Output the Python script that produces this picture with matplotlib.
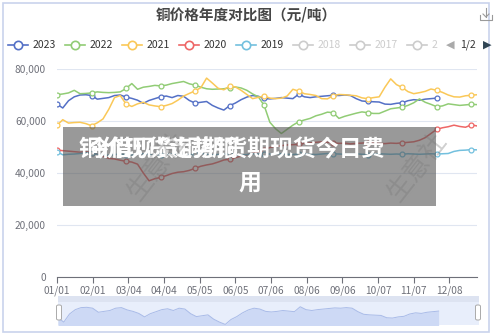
import matplotlib
matplotlib.use('Agg')
import matplotlib.pyplot as plt
from matplotlib.lines import Line2D
from matplotlib.patches import Rectangle, FancyBboxPatch

plt.rcParams['font.family'] = ['Noto Sans CJK SC', 'DejaVu Sans']

# 数据：每5天取一个点（单位：千元/吨）
days = list(range(0, 366, 5))
days_2023 = list(range(0, 331, 5))

price_2023 = [66.5, 65.0, 67.8, 69.3, 70.0, 70.1, 69.8, 68.4, 68.7, 69.0,
              69.8, 70.0, 69.2, 68.7, 68.0, 66.8, 67.9, 68.6, 69.3, 69.6,
              69.0, 69.8, 69.5, 67.9, 66.9, 67.2, 67.5, 66.0, 65.0, 64.2,
              65.9, 66.9, 68.2, 69.2, 69.8, 69.5, 68.7, 68.5, 68.7, 69.0,
              68.8, 68.6, 70.3, 69.3, 69.0, 69.3, 69.5, 69.7, 69.9, 69.8,
              70.0, 69.8, 68.6, 67.7, 67.5, 67.4, 67.3, 66.5, 66.4, 66.8,
              67.0, 67.8, 68.2, 68.0, 68.4, 68.6, 68.8]
price_2022 = [70.1, 70.4, 70.8, 71.8, 70.5, 70.6, 70.8, 71.2, 71.0, 70.9,
              71.0, 71.2, 72.5, 74.4, 72.2, 73.0, 73.3, 73.7, 73.5, 73.8,
              74.4, 74.8, 75.2, 74.3, 73.8, 73.0, 72.4, 72.2, 72.3, 72.4,
              72.8, 73.1, 72.7, 71.8, 70.4, 69.3, 66.0, 59.5, 57.0, 55.2,
              56.8, 58.4, 59.7, 60.4, 61.0, 62.0, 62.6, 63.4, 63.2, 61.0,
              61.8, 62.4, 63.0, 63.5, 63.2, 62.9, 62.9, 63.8, 64.7, 65.0,
              65.3, 66.0, 67.0, 68.5, 67.2, 66.4, 65.5, 65.8, 66.6, 66.3,
              66.0, 66.2, 66.4, 66.3]
price_2021 = [58.3, 60.5, 59.2, 59.4, 59.5, 59.0, 58.2, 59.3, 60.8, 64.5,
              69.0, 69.8, 66.5, 65.6, 66.6, 67.2, 66.2, 65.8, 65.5, 66.0,
              66.7, 68.0, 69.6, 70.6, 71.6, 72.8, 76.5, 74.6, 72.6, 72.0,
              73.4, 73.1, 71.8, 70.2, 68.6, 69.1, 69.6, 68.8, 68.6, 68.8,
              69.6, 72.2, 71.5, 70.5, 70.2, 69.8, 68.6, 68.5, 69.7, 70.2,
              70.1, 69.9, 69.7, 68.9, 68.6, 69.0, 69.3, 73.0, 76.2, 74.0,
              72.9, 71.3, 70.5, 70.9, 71.4, 72.3, 71.8, 71.0, 70.0, 69.3,
              69.2, 69.7, 69.9, 70.1]
price_2020 = [48.8, 48.6, 48.4, 48.2, 48.0, 48.2, 47.8, 47.2, 46.4, 45.6,
              45.4, 44.9, 44.5, 44.2, 43.4, 40.0, 37.0, 37.8, 38.3, 39.0,
              39.8, 40.3, 40.5, 41.0, 41.8, 42.6, 43.1, 43.5, 44.2, 45.0,
              45.3, 45.9, 46.5, 47.0, 47.6, 48.2, 49.0, 49.8, 50.2, 50.5,
              50.8, 50.9, 51.0, 51.4, 51.6, 51.8, 52.0, 51.8, 51.6, 51.4,
              51.5, 51.2, 51.4, 51.5, 51.7, 51.6, 51.4, 51.3, 51.5, 51.4,
              51.6, 51.8, 52.0, 52.6, 53.6, 55.2, 56.8, 57.4, 57.8, 58.4,
              57.9, 57.6, 58.5, 58.1]
price_2019 = [48.2, 47.0, 47.2, 47.3, 47.5, 47.8, 47.6, 47.2, 47.0, 46.8,
              47.1, 47.3, 47.0, 46.9, 47.2, 47.4, 47.1, 46.8, 46.9, 47.2,
              47.4, 47.3, 47.0, 47.1, 47.3, 47.5, 47.2, 47.0, 47.1, 47.3,
              47.2, 47.0, 46.9, 47.1, 47.4, 47.3, 47.2, 47.3, 47.5, 47.4,
              47.2, 47.1, 47.3, 47.4, 47.2, 47.1, 47.3, 47.5, 47.4, 47.3,
              47.2, 47.3, 47.4, 47.2, 47.1, 47.3, 47.4, 47.3, 47.2, 47.3,
              47.2, 47.4, 47.3, 47.2, 47.3, 47.4, 47.3, 47.4, 47.5, 48.3,
              48.7, 48.8, 49.0, 48.9]

tick_days = [0, 31, 62, 93, 124, 155, 186, 217, 248, 279, 310, 341]
tick_labels = ['01/01', '02/01', '03/04', '04/04', '05/05', '06/05',
               '07/06', '08/06', '09/06', '10/07', '11/07', '12/08']

legend_years = ['2023', '2022', '2021', '2020', '2019', '2018', '2017', '2']
colors = ['#5470c6', '#91cc75', '#fac858', '#ee6666', '#73c0de']

W, H = 500, 335


def fx(x):
    return x / W


def fy(y):
    return 1 - y / H


fig = plt.figure(figsize=(5, 3.35), dpi=100)

# 外框
fig.add_artist(Rectangle((fx(3), fy(332)), fx(486), 329 / H, transform=fig.transFigure,
                         facecolor='none', edgecolor='#c9d3ec', lw=1.2))

# 标题
fig.text(fx(246), fy(15), '铜价格年度对比图（元/吨）', ha='center', va='center',
         fontsize=10.5, fontweight='bold', color='#464646')

# 下载图标
ic = '#9a9a9a'
fig.add_artist(Line2D([fx(480), fx(480), fx(492), fx(492)], [fy(15), fy(20), fy(20), fy(15)],
                      transform=fig.transFigure, color=ic, lw=0.8))
fig.add_artist(Line2D([fx(486), fx(486)], [fy(8), fy(17)], transform=fig.transFigure, color=ic, lw=0.8))
fig.add_artist(Line2D([fx(483), fx(486), fx(489)], [fy(14), fy(17), fy(14)],
                      transform=fig.transFigure, color=ic, lw=0.8))

# 图例
for i, yr in enumerate(legend_years):
    sx = 8 + i * 57
    c = colors[i] if i < len(colors) else '#cccccc'
    tc = '#333333' if i < len(colors) else '#cccccc'
    fig.add_artist(Line2D([fx(sx), fx(sx + 20)], [fy(45), fy(45)], transform=fig.transFigure,
                          color=c, lw=1.2))
    fig.add_artist(Line2D([fx(sx + 10)], [fy(45)], transform=fig.transFigure, marker='o',
                          markersize=6, markerfacecolor='white', markeredgecolor=c, markeredgewidth=1.2))
    fig.text(fx(sx + 25), fy(45), yr, ha='left', va='center', fontsize=7.5, color=tc)
fig.text(fx(450), fy(45), '◀', ha='center', va='center', fontsize=8, color='#aaaaaa', family='DejaVu Sans')
fig.text(fx(468), fy(45), '1/2', ha='center', va='center', fontsize=7.5, color='#333333')
fig.text(fx(487), fy(45), '▶', ha='center', va='center', fontsize=8, color='#2f4554', family='DejaVu Sans')

# 主图
ax = fig.add_axes([fx(57), fy(277), 420 / W, 208 / H])
series = [(days_2023, price_2023), (days, price_2022), (days, price_2021),
          (days, price_2020), (days, price_2019)]
for (d, p), c in zip(series, colors):
    ax.plot(d, [v * 1000 for v in p], color=c, lw=1.1, marker='o', markersize=3.5,
            markerfacecolor='white', markeredgecolor=c, markeredgewidth=0.9, markevery=6)

ax.set_xlim(0, 365)
ax.set_ylim(0, 80000)
ax.set_yticks([0, 20000, 40000, 60000, 80000])
ax.set_yticklabels(['0', '20,000', '40,000', '60,000', '80,000'])
ax.set_xticks(tick_days)
ax.set_xticklabels(tick_labels)
ax.tick_params(axis='y', length=0, pad=8, labelsize=7.3, colors='#6e7079')
ax.tick_params(axis='x', length=4, width=0.8, pad=2, labelsize=7.3, colors='#6e7079')
ax.grid(axis='y', color='#e0e6f1', lw=0.8)
ax.set_axisbelow(True)
for s in ['left', 'right', 'top']:
    ax.spines[s].set_visible(False)
ax.spines['bottom'].set_color('#6e7079')
ax.spines['bottom'].set_linewidth(0.8)

# 数据缩放条
sl = fig.add_axes([fx(58), fy(325), 421 / W, 29 / H])
sl.set_facecolor('#e8eefb')
sl.fill_between(days_2023, price_2023, 60, color='#cdd9f5', lw=0)
sl.plot(days_2023, price_2023, color='#a9bbe8', lw=0.7)
sl.set_xlim(0, 365)
sl.set_ylim(64.0, 74.0)
sl.axhspan(72.0, 74.0, color='#dde3f1', lw=0)
sl.set_xticks([])
sl.set_yticks([])
for s in sl.spines.values():
    s.set_visible(False)
for hx in [59, 478]:
    fig.add_artist(FancyBboxPatch((fx(hx - 2.5), fy(320)), 5 / W, 15 / H, transform=fig.transFigure,
                                  boxstyle='round,pad=0,rounding_size=0.004',
                                  facecolor='white', edgecolor='#aaaaaa', lw=0.7, zorder=5))

# 灰色遮罩与文字（原图两段标题叠在一起）
fig.add_artist(Rectangle((fx(63), fy(206)), 373 / W, 79 / H, transform=fig.transFigure,
                         facecolor='#555555', alpha=0.6, lw=0, zorder=10))
fig.text(fx(236), fy(150), '今借现货铜期货期现货今日费', ha='center', va='center',
         fontsize=16.5, fontweight='bold', color='white', zorder=11)
fig.text(fx(78), fy(150), '铜价现货走势铜', ha='left', va='center',
         fontsize=16.5, fontweight='bold', color='white', zorder=11)
fig.text(fx(250), fy(183), '用', ha='center', va='center',
         fontsize=16.5, fontweight='bold', color='white', zorder=11)

# 水印
for wx, wy in [(157, 166), (417, 167)]:
    fig.text(fx(wx), fy(wy), '生意社', ha='center', va='center', rotation=52,
             fontsize=19, color='#777777', alpha=0.35, zorder=12)

fig.savefig('out.png', dpi=100)
